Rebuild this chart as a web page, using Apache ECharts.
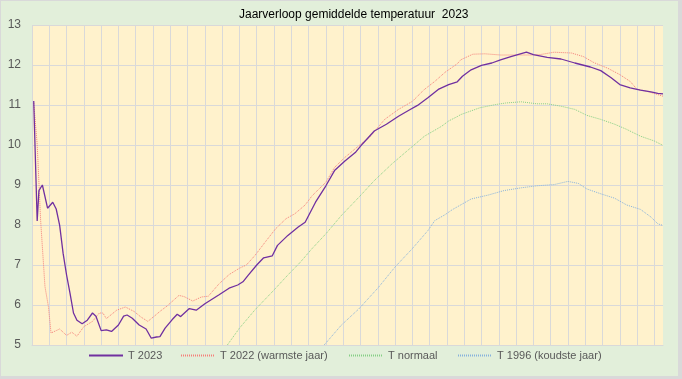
<!DOCTYPE html>
<html>
<head>
<meta charset="utf-8">
<script src="https://cdn.jsdelivr.net/npm/echarts@6/dist/echarts.min.js"></script>
<style>
html,body{margin:0;padding:0;background:#d9d9d9;}
#c{position:absolute;left:1px;top:1px;width:677px;height:375px;background:#e2efda;}
</style>
</head>
<body>
<div id="c"></div>
<script>
// Day-of-year (x) and running average temperature (y)
var days2023 = [1,3,4,6,7,9,12,14,16,18,20,22,24,26,29,32,35,37,40,43,46,48,49,50,53,55,58,62,66,69,70,72,74,77,81,84,86,91,95,100,108,114,119,122,125,130,134,139,142,148,154,158,164,170,175,181,187,191,198,205,212,218,223,229,235,241,246,249,254,260,266,271,277,286,290,298,306,314,323,329,335,340,346,352,358,362,365];
var t2023 = [11.1,8.1,8.86,9.0,8.98,8.42,8.57,8.4,7.99,7.29,6.75,6.29,5.8,5.62,5.53,5.62,5.8,5.72,5.36,5.38,5.34,5.42,5.38,5.5,5.72,5.75,5.67,5.5,5.4,5.17,5.12,5.2,5.21,5.42,5.63,5.77,5.71,5.91,5.87,6.03,6.25,6.42,6.5,6.58,6.74,7.0,7.18,7.23,7.49,7.74,7.95,8.07,8.57,8.98,9.36,9.6,9.81,10.02,10.35,10.52,10.72,10.87,10.99,11.18,11.39,11.51,11.58,11.72,11.88,11.99,12.05,12.13,12.21,12.32,12.26,12.19,12.15,12.05,11.95,11.86,11.68,11.51,11.43,11.37,11.33,11.29,11.28];

var days2022 = [1,3,5,7.5,9.5,11,14,16,20,23,26,30,35,39,41,43,49,54,59,63,67,71,74,78,85,88,93,98,102,108,114,120,124,129,135,141,147,152,158,162,170,175,181,189,195,204,212,220,227,233,239,246,248,255,262,271,279,289,294,302,312,319,325,333,340,346,350,356,362,365];
var t2022 = [11.05,10.02,8.11,6.46,5.96,5.3,5.36,5.4,5.24,5.32,5.22,5.46,5.59,5.8,5.8,5.66,5.87,5.95,5.84,5.7,5.59,5.73,5.84,5.97,6.24,6.21,6.1,6.2,6.22,6.52,6.76,6.92,7.0,7.24,7.58,7.91,8.16,8.28,8.5,8.73,9.07,9.44,9.69,9.98,10.18,10.64,10.89,11.09,11.39,11.59,11.82,12.03,12.13,12.27,12.28,12.25,12.25,12.25,12.26,12.32,12.3,12.21,12.06,11.92,11.76,11.59,11.39,11.34,11.26,11.22];

var daysNormaal = [113,120,129,139,148,155,162,170,179,189,198,208,218,227,237,241,246,248,259,268,274,283,292,298,306,314,321,329,337,344,352,360,365];
var tNormaal = [5.0,5.42,5.88,6.33,6.75,7.06,7.41,7.78,8.24,8.69,9.11,9.52,9.89,10.22,10.47,10.6,10.71,10.76,10.93,11.01,11.05,11.08,11.03,11.03,10.97,10.89,10.74,10.64,10.52,10.39,10.22,10.1,9.99];

var days1996 = [169,179,189,200,210,220,229,233,239,243,254,264,273,283,292,302,310,316,321,329,337,344,352,358,362,365];
var t1996 = [5.0,5.5,5.9,6.42,6.95,7.41,7.86,8.11,8.26,8.38,8.65,8.75,8.86,8.93,8.98,9.01,9.09,9.04,8.9,8.78,8.67,8.5,8.39,8.2,8.03,7.99];

var yTicks = [5,6,7,8,9,10,11,12,13];
var seriesNames = ['T 2023','T 2022 (warmste jaar)','T normaal','T 1996 (koudste jaar)'];

function pairs(xs, ys){ return xs.map(function(x,i){ return [x, ys[i]]; }); }

var chart = echarts.init(document.getElementById('c'));
var legendLefts = [87,179,347,456];
var font = 'Liberation Sans, Arial, sans-serif';
chart.setOption({
  animation:false,
  textStyle:{fontFamily:font},
  title:{text:'Jaarverloop gemiddelde temperatuur  2023',left:236,top:6,padding:[2,2,2,2],
    textStyle:{fontSize:12,fontWeight:'normal',color:'#000',fontFamily:font}},
  grid:{left:31,right:15,top:24,bottom:31},
  legend: seriesNames.map(function(n,i){
    return {data:[n],left:legendLefts[i],top:349,padding:0,itemWidth:34,itemHeight:10,
      itemStyle:{opacity:0},
      textStyle:{color:'#595959',fontSize:11,fontFamily:font}};
  }),
  xAxis:{type:'value',min:0,max:365,interval:10,
    axisLabel:{show:false},axisTick:{show:false},
    axisLine:{show:true,lineStyle:{color:'#d9d9d9'}},
    splitLine:{show:true,showMaxLine:false,lineStyle:{color:'#d9d9d9',width:1}}},
  yAxis:{type:'value',min:yTicks[0],max:yTicks[yTicks.length-1],interval:1,
    axisLabel:{color:'#595959',fontSize:12,margin:11},
    axisTick:{show:false},axisLine:{show:false},
    splitLine:{lineStyle:{color:'#d9d9d9',width:1}}},
  series:[
    {name:seriesNames[3],type:'line',symbol:'none',data:pairs(days1996,t1996),
      lineStyle:{color:'#86b2dc',width:1,type:[1,1]},itemStyle:{color:'#86b2dc'}},
    {name:seriesNames[2],type:'line',symbol:'none',data:pairs(daysNormaal,tNormaal),
      lineStyle:{color:'#86cf86',width:1,type:[1,1]},itemStyle:{color:'#86cf86'}},
    {name:seriesNames[1],type:'line',symbol:'none',data:pairs(days2022,t2022),
      lineStyle:{color:'#f5807a',width:1,type:[1,1]},itemStyle:{color:'#f5807a'}},
    {name:seriesNames[0],type:'line',symbol:'none',data:pairs(days2023,t2023),
      lineStyle:{color:'#7030a0',width:1.3},itemStyle:{color:'#7030a0'}}
  ],
  backgroundColor:'#e2efda'
});
// plot area background
var g = chart.getModel().getComponent('grid').coordinateSystem.getRect();
chart.setOption({graphic:[{type:'rect',z:-10,silent:true,shape:{x:g.x,y:g.y,width:g.width,height:g.height},style:{fill:'#fff2cc'}}]});
</script>
</body>
</html>
